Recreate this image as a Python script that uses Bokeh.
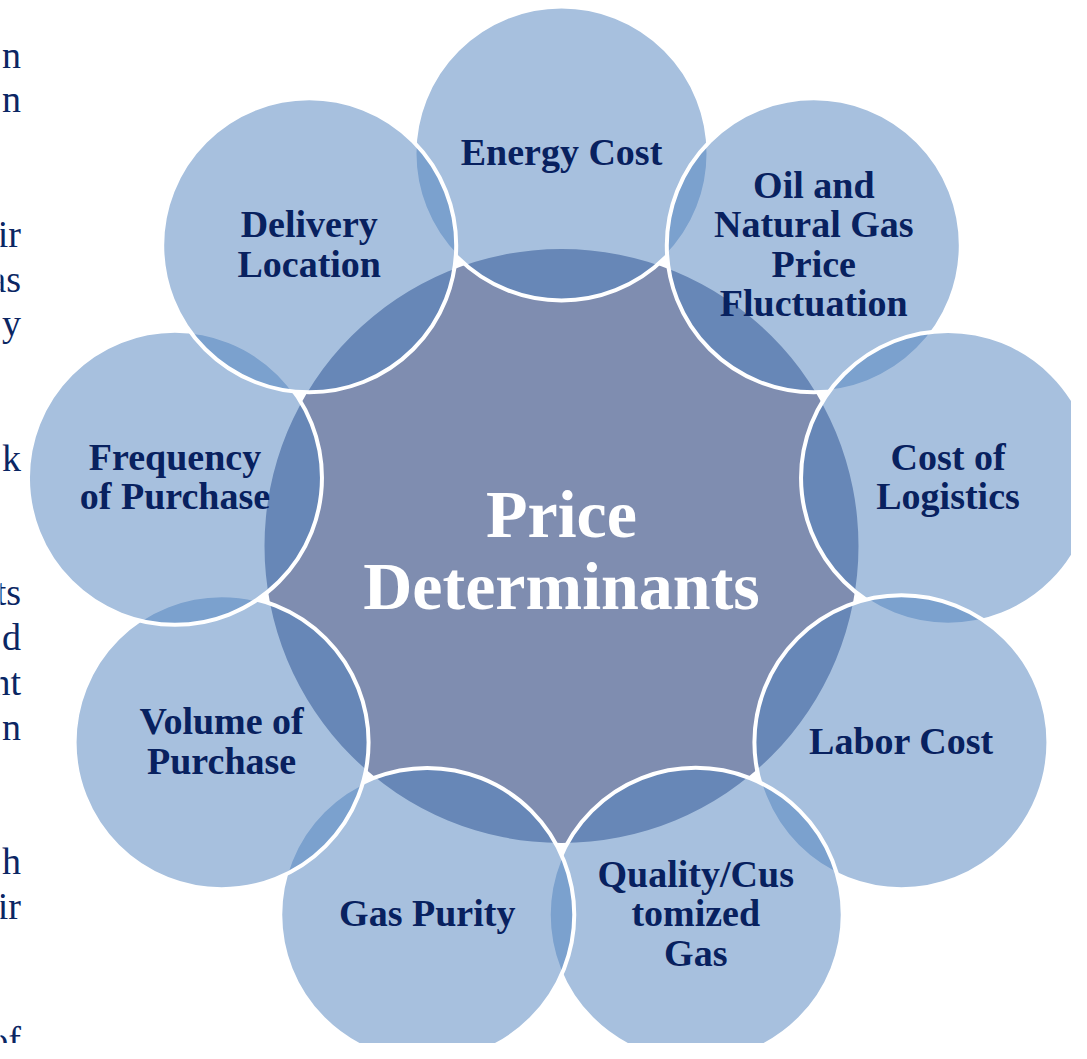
import math
from bokeh.plotting import figure
from bokeh.models import Range1d, ColumnDataSource
from bokeh.core.properties import value
from bokeh.embed import file_html
from bokeh.resources import INLINE

# ---- content ----
center_label = ["Price", "Determinants"]
labels = [
    ["Energy Cost"],
    ["Oil and", "Natural Gas", "Price", "Fluctuation"],
    ["Cost of", "Logistics"],
    ["Labor Cost"],
    ["Quality/Cus", "tomized", "Gas"],
    ["Gas Purity"],
    ["Volume of", "Purchase"],
    ["Frequency", "of Purchase"],
    ["Delivery", "Location"],
]
# visible ends of the neighbouring page text (cut by the left edge)
side_text = ["n", "n", "ir", "as", "y", "k", "ts", "d", "nt", "n", "h", "ir", "of"]
side_line_index = [0, 1, 4, 5, 6, 9, 12, 13, 14, 15, 18, 19, 22]

# ---- layout ----
W, H = 1071, 1043
CX, CY = 561, 545.5
R_CENTER = 297
R_RING = 392.5
R_OUTER = 147
STEP = 360 / len(labels)
BASE_FIX = 0.365  # shift of Bokeh's alphabetic baseline, in em

p = figure(width=W, height=H, x_range=Range1d(0, W), y_range=Range1d(H, 0),
           toolbar_location=None, output_backend="svg", min_border=0)
p.axis.visible = False
p.grid.visible = False
p.outline_line_color = None
p.background_fill_color = "white"
p.border_fill_color = "white"

# center circle
p.circle(x=[CX], y=[CY], radius=R_CENTER, fill_color="#7F8DB0", line_color=None)

ox, oy = [], []
for i in range(len(labels)):
    a = math.radians(i * STEP)
    ox.append(CX + R_RING * math.sin(a))
    oy.append(CY - R_RING * math.cos(a))

# outer circles, drawn clockwise so that each overlaps its predecessor
for i in range(len(labels)):
    p.circle(x=[ox[i]], y=[oy[i]], radius=R_OUTER, fill_color="#4F81BD",
             fill_alpha=0.5, line_color="white", line_width=4)

# outer labels
FS = 38
LS = 39.5
tx, ty, tt = [], [], []
for i, lines in enumerate(labels):
    n = len(lines)
    for k, line in enumerate(lines):
        tx.append(ox[i])
        ty.append(oy[i] + 12.5 + (k - (n - 1) / 2) * LS - BASE_FIX * FS)
        tt.append(line)
p.text(x="x", y="y", text="t", source=ColumnDataSource(dict(x=tx, y=ty, t=tt)),
       text_font=value("Liberation Serif"), text_font_style="bold",
       text_font_size=f"{FS}px", text_color="#08215F",
       text_align="center", text_baseline="alphabetic")

# center label
CFS = 68
cx_, cy_, ct_ = [], [], []
for k, line in enumerate(center_label):
    cx_.append(CX)
    cy_.append(CY + 6.5 + 22 + (k - 0.5) * 72 - BASE_FIX * CFS)
    ct_.append(line)
p.text(x="x", y="y", text="t", source=ColumnDataSource(dict(x=cx_, y=cy_, t=ct_)),
       text_font=value("Liberation Serif"), text_font_style="bold",
       text_font_size=f"{CFS}px", text_color="white",
       text_align="center", text_baseline="alphabetic")

# side text fragments
SFS = 38
sy = [68 + j * 44.8 - BASE_FIX * SFS for j in side_line_index]
p.text(x=[20.5] * len(side_text), y=sy, text=side_text,
       text_font=value("Liberation Serif"), text_font_size=f"{SFS}px",
       text_color="#0B2663", text_align="right", text_baseline="alphabetic")

open("out.html", "w").write(file_html(p, INLINE))
